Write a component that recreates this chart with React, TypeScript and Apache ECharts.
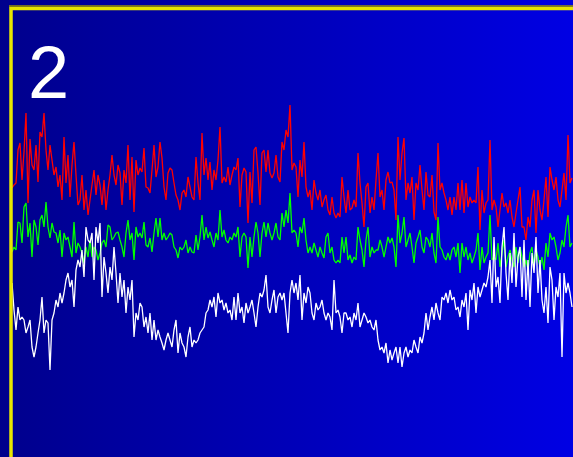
import React, { useEffect, useRef } from "react";
import * as echarts from "echarts";

// Readings of the three traces (screen-height units, larger = lower), one every sample step
const redValues = [
  188,185,183,150,143,180,152,113,203,139,165,170,145,182,132,137,113,150,170,145,160,175,167,187,175,200,137,183,155,197,165,142,175,205,200,175,210,190,215,200,185,170,195,175,185,205,180,210,190,175,155,175,185,165,
  173,205,170,183,145,200,157,212,160,175,168,172,148,187,188,193,170,145,177,167,142,158,187,200,173,168,170,183,195,200,210,193,190,197,177,187,197,200,157,183,200,133,175,158,180,162,190,170,180,160,127,183,177,182,167,185,175,
  167,170,158,207,175,168,172,223,172,203,150,147,173,205,153,150,172,150,173,178,173,155,177,182,142,150,130,137,105,170,163,167,197,160,177,142,187,197,190,210,180,193,200,190,207,200,195,210,215,197,213,218,213,217,177,197,
  213,190,210,208,200,207,153,183,203,227,187,183,213,197,210,180,153,197,190,210,180,172,183,182,190,220,137,180,153,138,200,183,193,177,220,183,190,165,190,210,172,195,197,175,212,220,143,190,183,193,200,210,197,215,197,210,
  183,210,180,213,183,207,197,203,200,203,167,230,190,213,203,200,140,210,200,207,227,210,193,207,203,213,200,217,227,213,200,187,227,227,240,217,227,200,190,233,190,210,220,200,177,217,167,180,190,177,200,207,190,173,200,135,183,178,
];

const greenValues = [
  252,247,250,222,223,243,207,203,237,223,257,220,227,245,220,215,227,202,227,238,223,232,233,243,230,257,233,240,237,247,257,222,253,243,247,253,263,247,257,240,257,247,250,260,253,243,240,247,225,227,240,237,233,232,
  240,247,257,233,220,240,233,260,227,237,233,238,222,245,247,238,252,233,218,237,218,240,233,240,237,233,235,247,250,258,247,250,247,240,253,247,252,253,235,250,237,215,240,227,238,232,240,247,233,240,210,237,230,240,243,237,240,
  233,237,227,257,237,233,237,268,237,257,237,222,233,257,233,222,237,223,233,240,233,223,237,240,213,227,210,223,193,233,230,233,247,227,233,218,240,253,247,253,243,250,257,247,253,258,237,233,253,247,260,263,260,263,237,253,
  237,260,255,263,257,260,227,240,250,267,240,227,257,247,253,250,250,240,247,257,247,237,243,238,247,267,215,243,233,217,247,240,233,247,263,243,237,230,247,253,237,240,247,233,253,263,217,247,250,257,260,253,260,250,247,257,
  243,273,243,257,247,260,253,263,257,250,233,270,247,263,257,253,215,260,257,260,243,267,253,240,267,257,250,260,267,247,263,247,257,267,260,270,253,247,267,250,257,267,257,270,243,257,233,240,237,247,260,253,240,247,227,215,247,243,
];

const whiteValues = [
  283,310,330,307,320,317,320,333,327,320,347,357,347,333,320,297,333,320,323,370,320,313,300,307,293,303,293,280,273,287,280,307,270,260,267,250,277,227,240,243,233,280,227,243,223,297,257,273,293,267,280,247,273,303,
  273,297,280,313,287,300,280,337,313,320,303,307,327,317,333,313,340,320,340,330,337,343,350,340,333,340,347,330,320,353,333,343,347,357,337,327,347,340,343,340,333,330,327,313,310,300,307,297,317,293,303,300,310,303,313,310,320,
  297,320,293,313,307,323,303,313,307,300,313,327,307,293,297,290,275,307,313,300,290,313,297,293,300,293,313,333,293,280,293,283,300,275,320,293,303,287,293,313,320,303,310,307,300,313,320,313,317,330,280,313,310,317,333,313,
  313,320,317,327,313,320,303,327,320,313,317,323,320,327,330,320,340,350,347,353,343,363,350,360,353,347,363,347,367,353,347,357,350,353,340,347,353,337,343,333,313,330,317,307,320,303,313,320,297,300,293,303,290,300,297,310,
  307,317,300,307,293,330,290,300,283,313,287,297,290,283,287,277,260,303,237,287,277,303,247,227,273,300,253,283,233,287,257,247,297,240,300,260,307,253,273,237,293,260,300,313,287,323,267,280,320,287,297,273,357,273,293,283,293,307,
];

const sampleLabels = redValues.map((_, i) => String(i + 1));

const panelNumber = "2";

export default function App() {
  const ref = useRef<HTMLDivElement>(null);

  useEffect(() => {
    if (!ref.current) return;
    const chart = echarts.init(ref.current, undefined, { renderer: "svg" });
    chart.setOption({
      animation: false,
      backgroundColor: new echarts.graphic.LinearGradient(0, 0, 1, 0, [
        { offset: 0, color: "#00008C" },
        { offset: 1, color: "#0000E4" },
      ]),
      grid: { left: 12, right: 1, top: 0, bottom: 0 },
      xAxis: {
        type: "category",
        data: sampleLabels,
        boundaryGap: false,
        show: false,
      },
      yAxis: {
        type: "value",
        inverse: true,
        min: 0,
        max: 457,
        show: false,
      },
      graphic: [
        {
          type: "rect",
          z: 10,
          shape: { x: 11, y: 8.5, width: 700, height: 600 },
          style: { fill: "none", stroke: "#E8E600", lineWidth: 3.5 },
        },
        {
          type: "line",
          z: 10,
          shape: { x1: 9, y1: 6, x2: 700, y2: 6 },
          style: { stroke: "#9A9400", lineWidth: 1.5 },
        },
        {
          type: "text",
          z: 11,
          x: 28,
          y: 72,
          style: {
            text: panelNumber,
            fill: "#FFFFFF",
            fontSize: 74,
            fontFamily: "Liberation Sans, Arial, sans-serif",
            verticalAlign: "middle",
            align: "left",
          },
        },
      ],
      series: [
        {
          type: "line",
          data: redValues,
          showSymbol: false,
          lineStyle: { color: "#FF0000", width: 1.3 },
          itemStyle: { color: "#FF0000" },
        },
        {
          type: "line",
          data: greenValues,
          showSymbol: false,
          lineStyle: { color: "#00FF00", width: 1.3 },
          itemStyle: { color: "#00FF00" },
        },
        {
          type: "line",
          data: whiteValues,
          showSymbol: false,
          lineStyle: { color: "#FFFFFF", width: 1.3 },
          itemStyle: { color: "#FFFFFF" },
        },
      ],
    });
    return () => chart.dispose();
  }, []);

  return (
    <div
      ref={ref}
      style={{ position: "fixed", left: 0, top: 0, width: 573, height: 457 }}
    />
  );
}
